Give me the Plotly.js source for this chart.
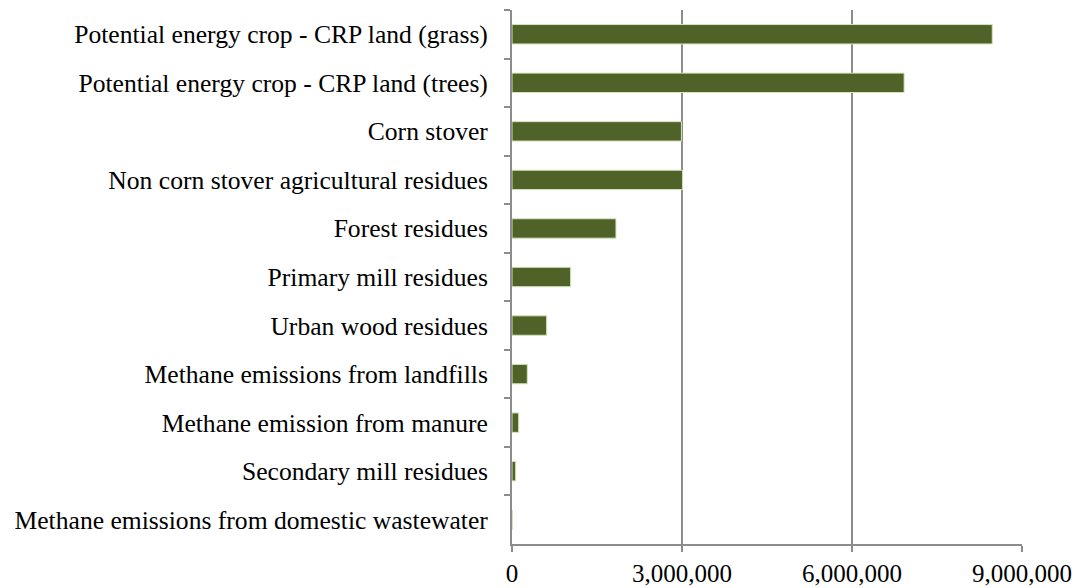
<!DOCTYPE html>
<html>
<head>
<meta charset="utf-8">
<script src="https://cdn.plot.ly/plotly-3.0.1.min.js"></script>
<style>html,body{margin:0;padding:0;background:#fff;}#chart{width:1076px;height:588px;}</style>
</head>
<body>
<div id="chart"></div>
<script>
const categories = [
  "Potential energy crop - CRP land (grass)",
  "Potential energy crop - CRP land (trees)",
  "Corn stover",
  "Non corn stover agricultural residues",
  "Forest residues",
  "Primary mill residues",
  "Urban wood residues",
  "Methane emissions from landfills",
  "Methane emission from manure",
  "Secondary mill residues",
  "Methane emissions from domestic wastewater"
];
const values = [8475000, 6920000, 2990000, 3010000, 1835000, 1035000, 612000, 270000, 118000, 65000, 5000];
const tickVals = [0, 3000000, 6000000, 9000000];
const tickText = ["0", "3,000,000", "6,000,000", "9,000,000"];

const fontFam = "'Liberation Serif', 'DejaVu Serif', serif";

Plotly.newPlot('chart', [{
  type: 'bar',
  orientation: 'h',
  x: values,
  y: categories,
  marker: {color: '#4F6228', line: {color: '#d7e4bd', width: 1}},
  hoverinfo: 'x+y'
}], {
  width: 1076,
  height: 588,
  margin: {l: 512, r: 54, t: 10, b: 44},
  paper_bgcolor: '#ffffff',
  plot_bgcolor: '#ffffff',
  bargap: 0.6,
  showlegend: false,
  font: {family: fontFam, size: 25, color: '#000000'},
  xaxis: {
    range: [0, 9000000],
    tickvals: tickVals,
    ticktext: tickText,
    showgrid: true,
    gridcolor: '#8c8c8c',
    gridwidth: 2,
    zeroline: false,
    showline: true,
    linecolor: '#8c8c8c',
    linewidth: 2,
    ticks: 'outside',
    ticklen: 6,
    tickwidth: 2,
    tickcolor: '#8c8c8c',
    ticklabelstandoff: 0,
    tickfont: {family: fontFam, size: 25, color: '#000'},
    fixedrange: true
  },
  yaxis: {
    type: 'category',
    autorange: 'reversed',
    showgrid: false,
    zeroline: false,
    showline: true,
    linecolor: '#8c8c8c',
    linewidth: 2,
    ticks: 'outside',
    tickson: 'boundaries',
    ticklen: 6,
    tickwidth: 2,
    tickcolor: '#8c8c8c',
    ticklabelstandoff: 17,
    tickfont: {family: fontFam, size: 25.6, color: '#000'},
    fixedrange: true
  }
}, {displayModeBar: false, staticPlot: true});
</script>
</body>
</html>
